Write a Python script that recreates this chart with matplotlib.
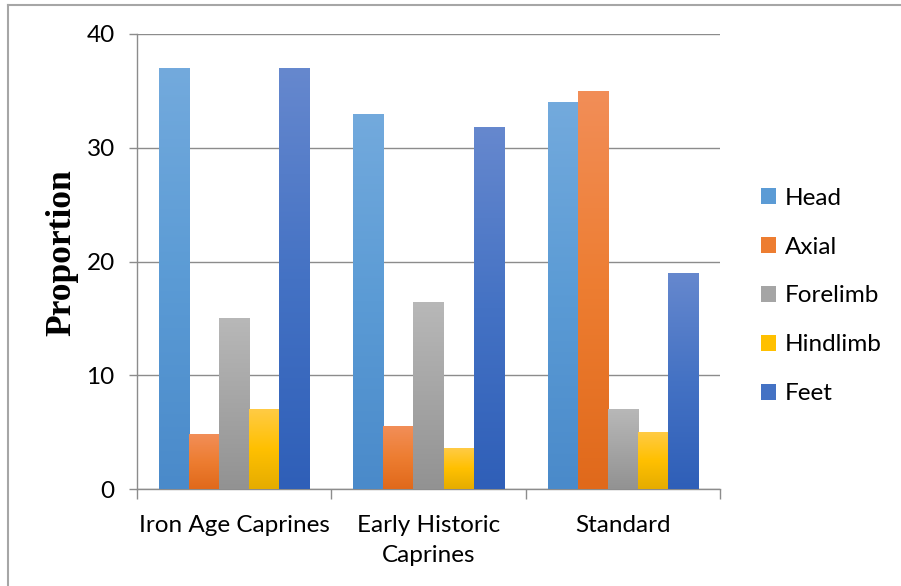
import numpy as np
import matplotlib.pyplot as plt
from matplotlib.colors import LinearSegmentedColormap
from matplotlib.lines import Line2D
from matplotlib.patches import Patch

plt.rcParams['font.family'] = ['Lato', 'DejaVu Sans']

groups = ['Iron Age Caprines', 'Early Historic\nCaprines', 'Standard']
parts = ['Head', 'Axial', 'Forelimb', 'Hindlimb', 'Feet']
head = [37.0, 33.0, 34.0]
axial = [4.8, 5.5, 35.0]
forelimb = [15.0, 16.4, 7.0]
hindlimb = [7.0, 3.6, 5.0]
feet = [37.0, 31.8, 19.0]
series = [head, axial, forelimb, hindlimb, feet]

# top / middle / bottom shades for each series (vertical gradient fill)
shades = [
    ('#73aadd', '#5b9bd5', '#4a8aca'),
    ('#f28e58', '#ed7d31', '#e0691b'),
    ('#b8b8b8', '#a5a5a5', '#929292'),
    ('#ffcb45', '#ffc000', '#e5ac00'),
    ('#6688ce', '#4472c4', '#2f5fb8'),
]

fig = plt.figure(figsize=(9.01, 5.86), dpi=100)
ax = fig.add_axes([137 / 901, 1 - 489 / 586, (720 - 137) / 901, (489 - 34) / 586])

x = np.arange(len(groups))
w = 0.1544
grad = np.linspace(0, 1, 256).reshape(-1, 1)

for i, (vals, (top, mid, bot)) in enumerate(zip(series, shades)):
    bars = ax.bar(x + (i - 2) * w, vals, width=w, color='none', edgecolor='none', zorder=3)
    cmap = LinearSegmentedColormap.from_list(parts[i], [top, mid, bot])
    for rect in bars:
        x0, y0 = rect.get_x(), rect.get_y()
        img = ax.imshow(grad, cmap=cmap, aspect='auto', origin='upper',
                        extent=[x0, x0 + rect.get_width(), y0, y0 + rect.get_height()],
                        zorder=3, interpolation='bilinear')
        img.set_clip_path(rect)

ax.set_xlim(-0.5, 2.5)
ax.set_ylim(0, 40)
ax.set_yticks([0, 10, 20, 30, 40])
ax.yaxis.grid(True, color='#8c8c8c', linewidth=1.0, zorder=0)
ax.set_axisbelow(True)

ax.set_xticks(x)
ax.set_xticklabels(groups, fontsize=17.5, linespacing=1.5)
ax.set_xticks([-0.5, 0.5, 1.5, 2.5], minor=True)
ax.tick_params(axis='x', which='major', length=0, pad=19)
ax.tick_params(axis='x', which='minor', length=7, color='#8c8c8c', width=1.0)
ax.tick_params(axis='y', length=6, color='#8c8c8c', width=1.0, labelsize=17.5, pad=10)

for s in ['top', 'right']:
    ax.spines[s].set_visible(False)
for s in ['left', 'bottom']:
    ax.spines[s].set_color('#8c8c8c')
    ax.spines[s].set_linewidth(1.0)

ax.set_ylabel('Proportion', fontsize=25.5, fontweight='bold', family='Liberation Serif')
ax.yaxis.set_label_coords(-0.101, 0.52)

handles = [Patch(facecolor=m, edgecolor='none') for _, m, _ in shades]
fig.legend(handles, parts, loc='center left', bbox_to_anchor=(739 / 901, 1 - 296 / 586),
           frameon=False, fontsize=17.5, handlelength=0.62, handleheight=0.62,
           handletextpad=0.35, labelspacing=1.15)

# outer frame lines along top and left edge
border = '#a6a6a6'
fig.add_artist(Line2D([8 / 901, 8 / 901], [0, 1 - 5 / 586], color=border, lw=1.5))
fig.add_artist(Line2D([8 / 901, 1], [1 - 5 / 586, 1 - 5 / 586], color=border, lw=1.5))

fig.savefig('out.png', dpi=100)
